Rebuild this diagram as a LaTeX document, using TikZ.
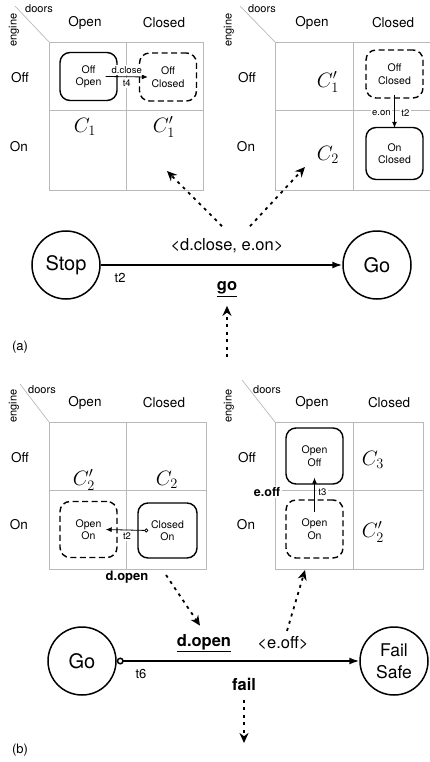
\documentclass[tikz,border=0pt]{standalone}
\usepackage{fontspec}
\setmainfont{TeX Gyre Heros}
\usetikzlibrary{arrows.meta}

\begin{document}
\begin{tikzpicture}[x=1pt,y=-1pt,
    cell/.style={draw=gray!55,line width=0.7pt},
    hdr/.style={font=\fontsize{13.5}{15}\selectfont},
    axlbl/.style={font=\fontsize{11}{12}\selectfont,inner sep=1pt},
    conf/.style={font=\fontsize{22}{24}\selectfont},
    cbox/.style={draw,line width=1.4pt,rounded corners=10pt,minimum width=57pt,minimum height=48pt,align=center,inner sep=0pt,font=\fontsize{10.5}{12.5}\selectfont},
    cnew/.style={cbox,dash pattern=on 6pt off 3.5pt},
    tlbl/.style={font=\fontsize{9.5}{10}\selectfont,fill=white,inner sep=1.5pt},
    move/.style={-{Latex[length=6pt,width=5pt]},line width=0.8pt},
    mode/.style={circle,draw,line width=1.5pt,minimum size=68pt,align=center,inner sep=0pt,font=\fontsize{20}{22}\selectfont},
    evt/.style={font=\fontsize{16.5}{18}\selectfont},
    note/.style={font=\fontsize{13}{14}\selectfont},
    trans/.style={-{Latex[length=10pt,width=7pt]},line width=1.5pt},
    flow/.style={line width=1.8pt,dash pattern=on 3pt off 4.5pt,-{Stealth[length=10pt,width=9pt]}}
]
\useasboundingbox (0,0) rectangle (430,762);

% (a) left table
\draw[cell] (49,42) rectangle (203,190) (126,42) -- (126,190) (49,110) -- (203,110);
\draw[cell] (15,6) -- (49,42);
\node[axlbl] (tlx) at (39,9) {doors};
\node[axlbl,rotate=90] (tly) at (14,30) {engine};
\node[hdr] (tlc1) at (85,23) {Open};
\node[hdr] (tlc2) at (164,23) {Closed};
\node[hdr] (tlr1) at (20,78) {Off};
\node[hdr] (tlr2) at (19,147) {On};
\node[conf] (tlca) at (85,127) {$C_1$};
\node[conf] (tlcb) at (164,127) {$C_1'$};
\node[cbox] (offopen) at (88.5,76.5) {Off\\Open};
\node[cnew] (offclosed) at (168,77) {Off\\Closed};
\draw[move] ([xshift=-12pt]offopen.east) -- ([xshift=9pt]offclosed.west)
  node[tlbl,midway,above=1pt] {d.close} node[tlbl,midway,below=1pt] {t4};

% (a) right table
\draw[cell] (275,42) rectangle (432,190) (353,42) -- (353,190) (275,110) -- (432,110);
\draw[cell] (240,6) -- (275,42);
\node[axlbl] (trx) at (262,9) {doors};
\node[axlbl,rotate=90] (try) at (229,30) {engine};
\node[hdr] (trc1) at (312,23) {Open};
\node[hdr] (trc2) at (393,23) {Closed};
\node[hdr] (trr1) at (247,78) {Off};
\node[hdr] (trr2) at (246,147) {On};
\node[conf] (trca) at (328,82) {$C_1'$};
\node[conf] (trcb) at (328,155) {$C_2$};
\node[cnew] (offclosedr) at (394.5,74) {Off\\Closed};
\node[cbox,minimum height=52pt] (onclosed) at (394.5,153.5) {On\\Closed};
\draw[move] ([yshift=4pt]offclosedr.south) -- ([yshift=-1pt]onclosed.north)
  node[tlbl,pos=0.55,left=2pt] {e.on} node[tlbl,pos=0.55,right=5pt] {t2};

% (a) modes
\node[mode] (stop) at (66,265) {Stop};
\node[mode] (goa) at (377,265) {Go};
\draw[trans] (stop) -- (goa) node[note,pos=0.08,below=4pt] {t2};
\node[evt] (evA) at (227,246) {<d.close, e.on>};
\node[evt] (goev) at (227,289) {\underline{\textbf{go}}};
\node[note] (capa) at (20,347) {(a)};
\coordinate (tipa1) at (167,171);
\coordinate (tipa2) at (305,167);
\coordinate (srca) at (227,357);
\draw[flow] ([xshift=-5pt,yshift=9pt]evA.north) -- (tipa1);
\draw[flow] ([xshift=23pt,yshift=9pt]evA.north) -- (tipa2);
\draw[flow] (srca) -- ([yshift=-6pt]goev.south);

% (b) left table
\draw[cell] (49,422) rectangle (206,569) (126,422) -- (126,569) (49,490) -- (206,490);
\draw[cell] (20,384) -- (49,422);
\node[axlbl] (blx) at (42,390) {doors};
\node[axlbl,rotate=90] (bly) at (14,406) {engine};
\node[hdr] (blc1) at (85,403) {Open};
\node[hdr] (blc2) at (164,403) {Closed};
\node[hdr] (blr1) at (20,458) {Off};
\node[hdr] (blr2) at (19,525) {On};
\node[conf] (blca) at (84,480) {$C_2'$};
\node[conf] (blcb) at (167,480) {$C_2$};
\node[cnew,minimum height=56pt] (openon) at (88.5,529.5) {Open\\On};
\node[cbox,minimum height=55pt,minimum width=59pt] (closedon) at (167.5,530.5) {Closed\\On};
\draw[{Circle[open,length=4pt]}-{Latex[length=6pt,width=5pt]},line width=0.8pt]
  ([xshift=11pt]closedon.west) -- ([xshift=-12pt]openon.east)
  node[tlbl,midway,below=1pt] {t2};
\node[font=\fontsize{13}{14}\selectfont] (dopen) at (127,577) {\textbf{d.open}};

% (b) right table
\draw[cell] (275,422) rectangle (423,569) (353,422) -- (353,569) (275,490) -- (423,490);
\draw[cell] (242,380) -- (275,422);
\node[axlbl] (brx) at (267,390) {doors};
\node[axlbl,rotate=90] (bry) at (229,406) {engine};
\node[hdr] (brc1) at (312,403) {Open};
\node[hdr] (brc2) at (389,403) {Closed};
\node[hdr] (brr1) at (247,458) {Off};
\node[hdr] (brr2) at (246,525) {On};
\node[conf] (brca) at (373,460) {$C_3$};
\node[conf] (brcb) at (373,532) {$C_2'$};
\node[cbox,minimum height=56pt] (openoff) at (314.5,456) {Open\\Off};
\node[cnew,minimum height=58pt] (openonr) at (314.5,529) {Open\\On};
\draw[move] ([yshift=-13pt]openonr.north) -- ([yshift=7pt]openoff.south)
  node[tlbl,pos=0.58,right=2pt] {t3};
\node[font=\fontsize{12.5}{14}\selectfont,fill=white,inner sep=1.5pt] (eoff) at (267,492) {\textbf{e.off}};

% (b) modes
\node[mode] (gob) at (82,661) {Go};
\node[mode,font=\fontsize{17.5}{22}\selectfont] (failsafe) at (394,661) {Fail\\Safe};
\draw[trans,{Circle[open,length=7pt,width=7pt]}-{Latex[length=10pt,width=7pt]}] (gob) -- (failsafe)
  node[note,pos=0.1,below=4pt] {t6};
\node[evt] (dopenb) at (204,643) {\underline{\textbf{d.open}}};
\node[evt] (eoffb) at (283,643) {<e.off>};
\node[evt] (fail) at (244,684) {\textbf{fail}};
\node[note] (capb) at (20,750) {(b)};
\coordinate (srcb1) at (166,575);
\coordinate (tipb2) at (305,570);
\coordinate (tipb3) at (244,743);
\draw[flow] (srcb1) -- ([xshift=-4pt,yshift=5pt]dopenb.north);
\draw[flow] ([xshift=4pt,yshift=2pt]eoffb.north) -- (tipb2);
\draw[flow] ([yshift=-6pt]fail.south) -- (tipb3);

\end{tikzpicture}
\end{document}
